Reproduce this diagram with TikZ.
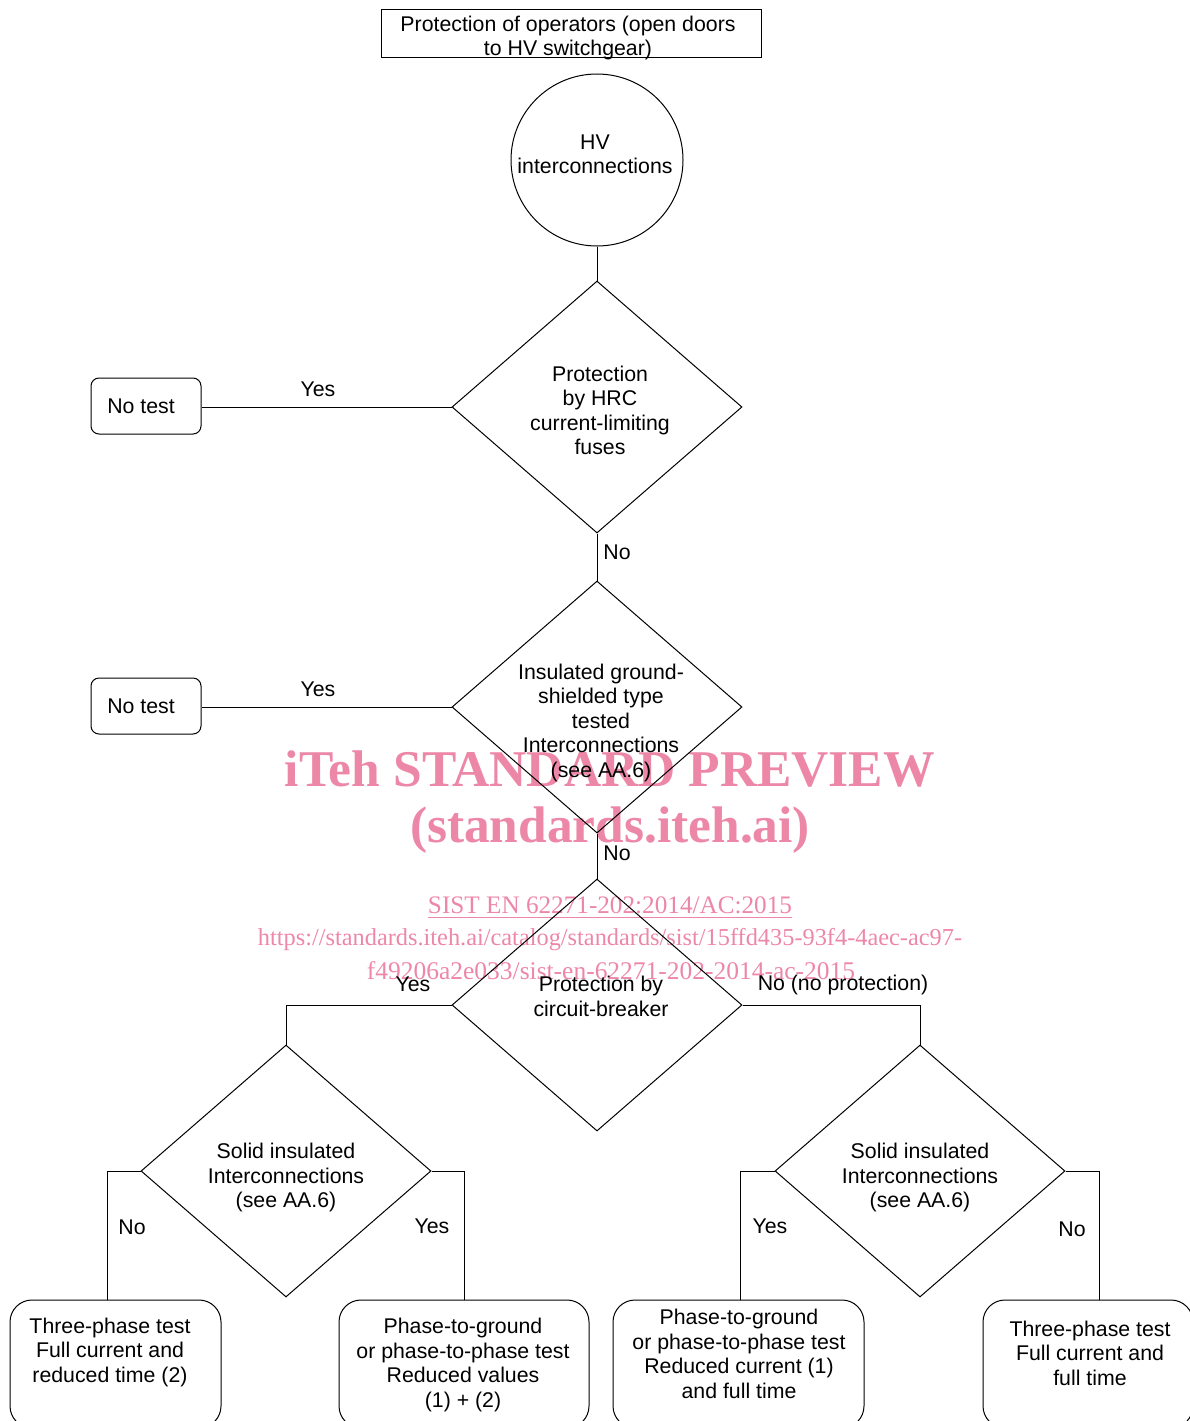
\documentclass[tikz,border=0pt]{standalone}
\usepackage{fontspec}
\setmainfont{Liberation Sans}
\newfontfamily\wmfont{Liberation Serif}
\usetikzlibrary{shapes.geometric}
\definecolor{wmpink}{RGB}{237,135,168}
\begin{document}
\begin{tikzpicture}[x=1pt,y=-1pt,
  every node/.style={font=\fontsize{21.3}{24.5}\selectfont},
  line/.style={draw=black,line width=1pt},
  txt/.style={align=center,inner sep=0pt,yshift=-1.5pt},
  dia/.style={line,diamond,minimum width=290pt,minimum height=252pt,inner sep=0pt},
  smallbox/.style={line,rectangle,rounded corners=8pt,minimum width=110pt,minimum height=56pt,inner sep=0pt},
  bigbox/.style={line,rectangle,rounded corners=22pt,minimum height=128pt,inner sep=0pt},
  wm/.style={text=wmpink,inner sep=0pt,font=\wmfont}]
\useasboundingbox (0,0) rectangle (1190,1421);
\clip (0,0) rectangle (1190,1421);
% watermark
\node[wm] (w1) at (610,769) {\resizebox{650pt}{!}{\bfseries iTeh STANDARD PREVIEW}};
\node[wm] (w2) at (610,830) {\resizebox{400pt}{!}{\bfseries (standards.iteh.ai)}};
\node[wm] (w3) at (610,908) {\resizebox{364pt}{!}{\underline{SIST EN 62271-202:2014/AC:2015}}};
\node[wm] (w4) at (610,940) {\resizebox{704pt}{!}{https://standards.iteh.ai/catalog/standards/sist/15ffd435-93f4-4aec-ac97-}};
\node[wm] (w5) at (611,971) {\resizebox{488pt}{!}{f49206a2e033/sist-en-62271-202-2014-ac-2015}};
% shapes
\node[line,rectangle,minimum width=380pt,minimum height=48pt,inner sep=0pt] (top) at (571,34) {};
\node[txt] (toptxt) at (568,36.5) {Protection of operators (open doors\\to HV switchgear)};
\node[line,circle,minimum size=172pt,inner sep=0pt] (circ) at (597,160) {};
\node[txt] (circtxt) at (595,153) {HV\\interconnections};
\node[dia] (d1) at (597,407) {};
\node[txt] (d1t) at (600,409) {Protection\\by HRC\\current-limiting\\fuses};
\node[dia] (d2) at (597,707) {};
\node[txt] (d2t) at (601,721) {Insulated ground-\\shielded type\\tested\\Interconnections\\(see AA.6)};
\node[dia] (d3) at (597,1005) {};
\node[txt] (d3t) at (601,995) {Protection by\\circuit-breaker};
\node[dia] (d4) at (286,1171) {};
\node[txt] (d4t) at (286,1176) {Solid insulated\\Interconnections\\(see AA.6)};
\node[dia] (d5) at (920,1171) {};
\node[txt] (d5t) at (920,1176) {Solid insulated\\Interconnections\\(see AA.6)};
\node[smallbox] (nt1) at (146,406) {};
\node[txt] (nt1t) at (141,405) {No test};
\node[smallbox] (nt2) at (146,706) {};
\node[txt] (nt2t) at (141,705) {No test};
\node[bigbox,minimum width=211pt] (bA) at (115.5,1364) {};
\node[txt] (bAt) at (110,1350.5) {Three-phase test\\Full current and\\reduced time (2)};
\node[bigbox,minimum width=250pt] (bB) at (464,1364) {};
\node[txt] (bBt) at (463,1363.5) {Phase-to-ground\\or phase-to-phase test\\Reduced values\\(1) + (2)};
\node[bigbox,minimum width=251pt] (bC) at (738.5,1364) {};
\node[txt] (bCt) at (739,1352.5) {Phase-to-ground\\or phase-to-phase test\\Reduced current (1)\\and full time};
\node[bigbox,minimum width=210pt] (bD) at (1088,1364) {};
\node[txt] (bDt) at (1090,1351.5) {Three-phase test\\Full current and\\full time};
% junction coordinates on box tops
\coordinate (jA) at (107,1300);
\coordinate (jB) at (464,1300);
\coordinate (jC) at (740,1300);
\coordinate (jD) at (1099,1300);
% connectors
\draw[line] (circ.south) -- (d1.north);
\draw[line] (d1.west) -- (d1.west -| nt1.east);
\draw[line] (d1.south) -- (d2.north);
\draw[line] (d2.west) -- (d2.west -| nt2.east);
\draw[line] (d2.south) -- (d3.north);
\draw[line] (d3.west) -| (d4.north);
\draw[line] (d3.east) -| (d5.north);
\draw[line] (d4.west) -| (jA);
\draw[line] (d4.east) -| (jB);
\draw[line] (d5.west) -| (jC);
\draw[line] (d5.east) -| (jD);
% labels
\node[txt] (l1) at (318,388) {Yes};
\node[txt] (l2) at (617,551) {No};
\node[txt] (l3) at (318,688) {Yes};
\node[txt] (l4) at (617,852) {No};
\node[txt] (l5) at (413,983) {Yes};
\node[txt] (l6) at (843,983) {No (no protection)};
\node[txt] (l7) at (132,1226) {No};
\node[txt] (l8) at (432,1225) {Yes};
\node[txt] (l9) at (770,1225) {Yes};
\node[txt] (l10) at (1072,1228) {No};
\end{tikzpicture}
\end{document}
